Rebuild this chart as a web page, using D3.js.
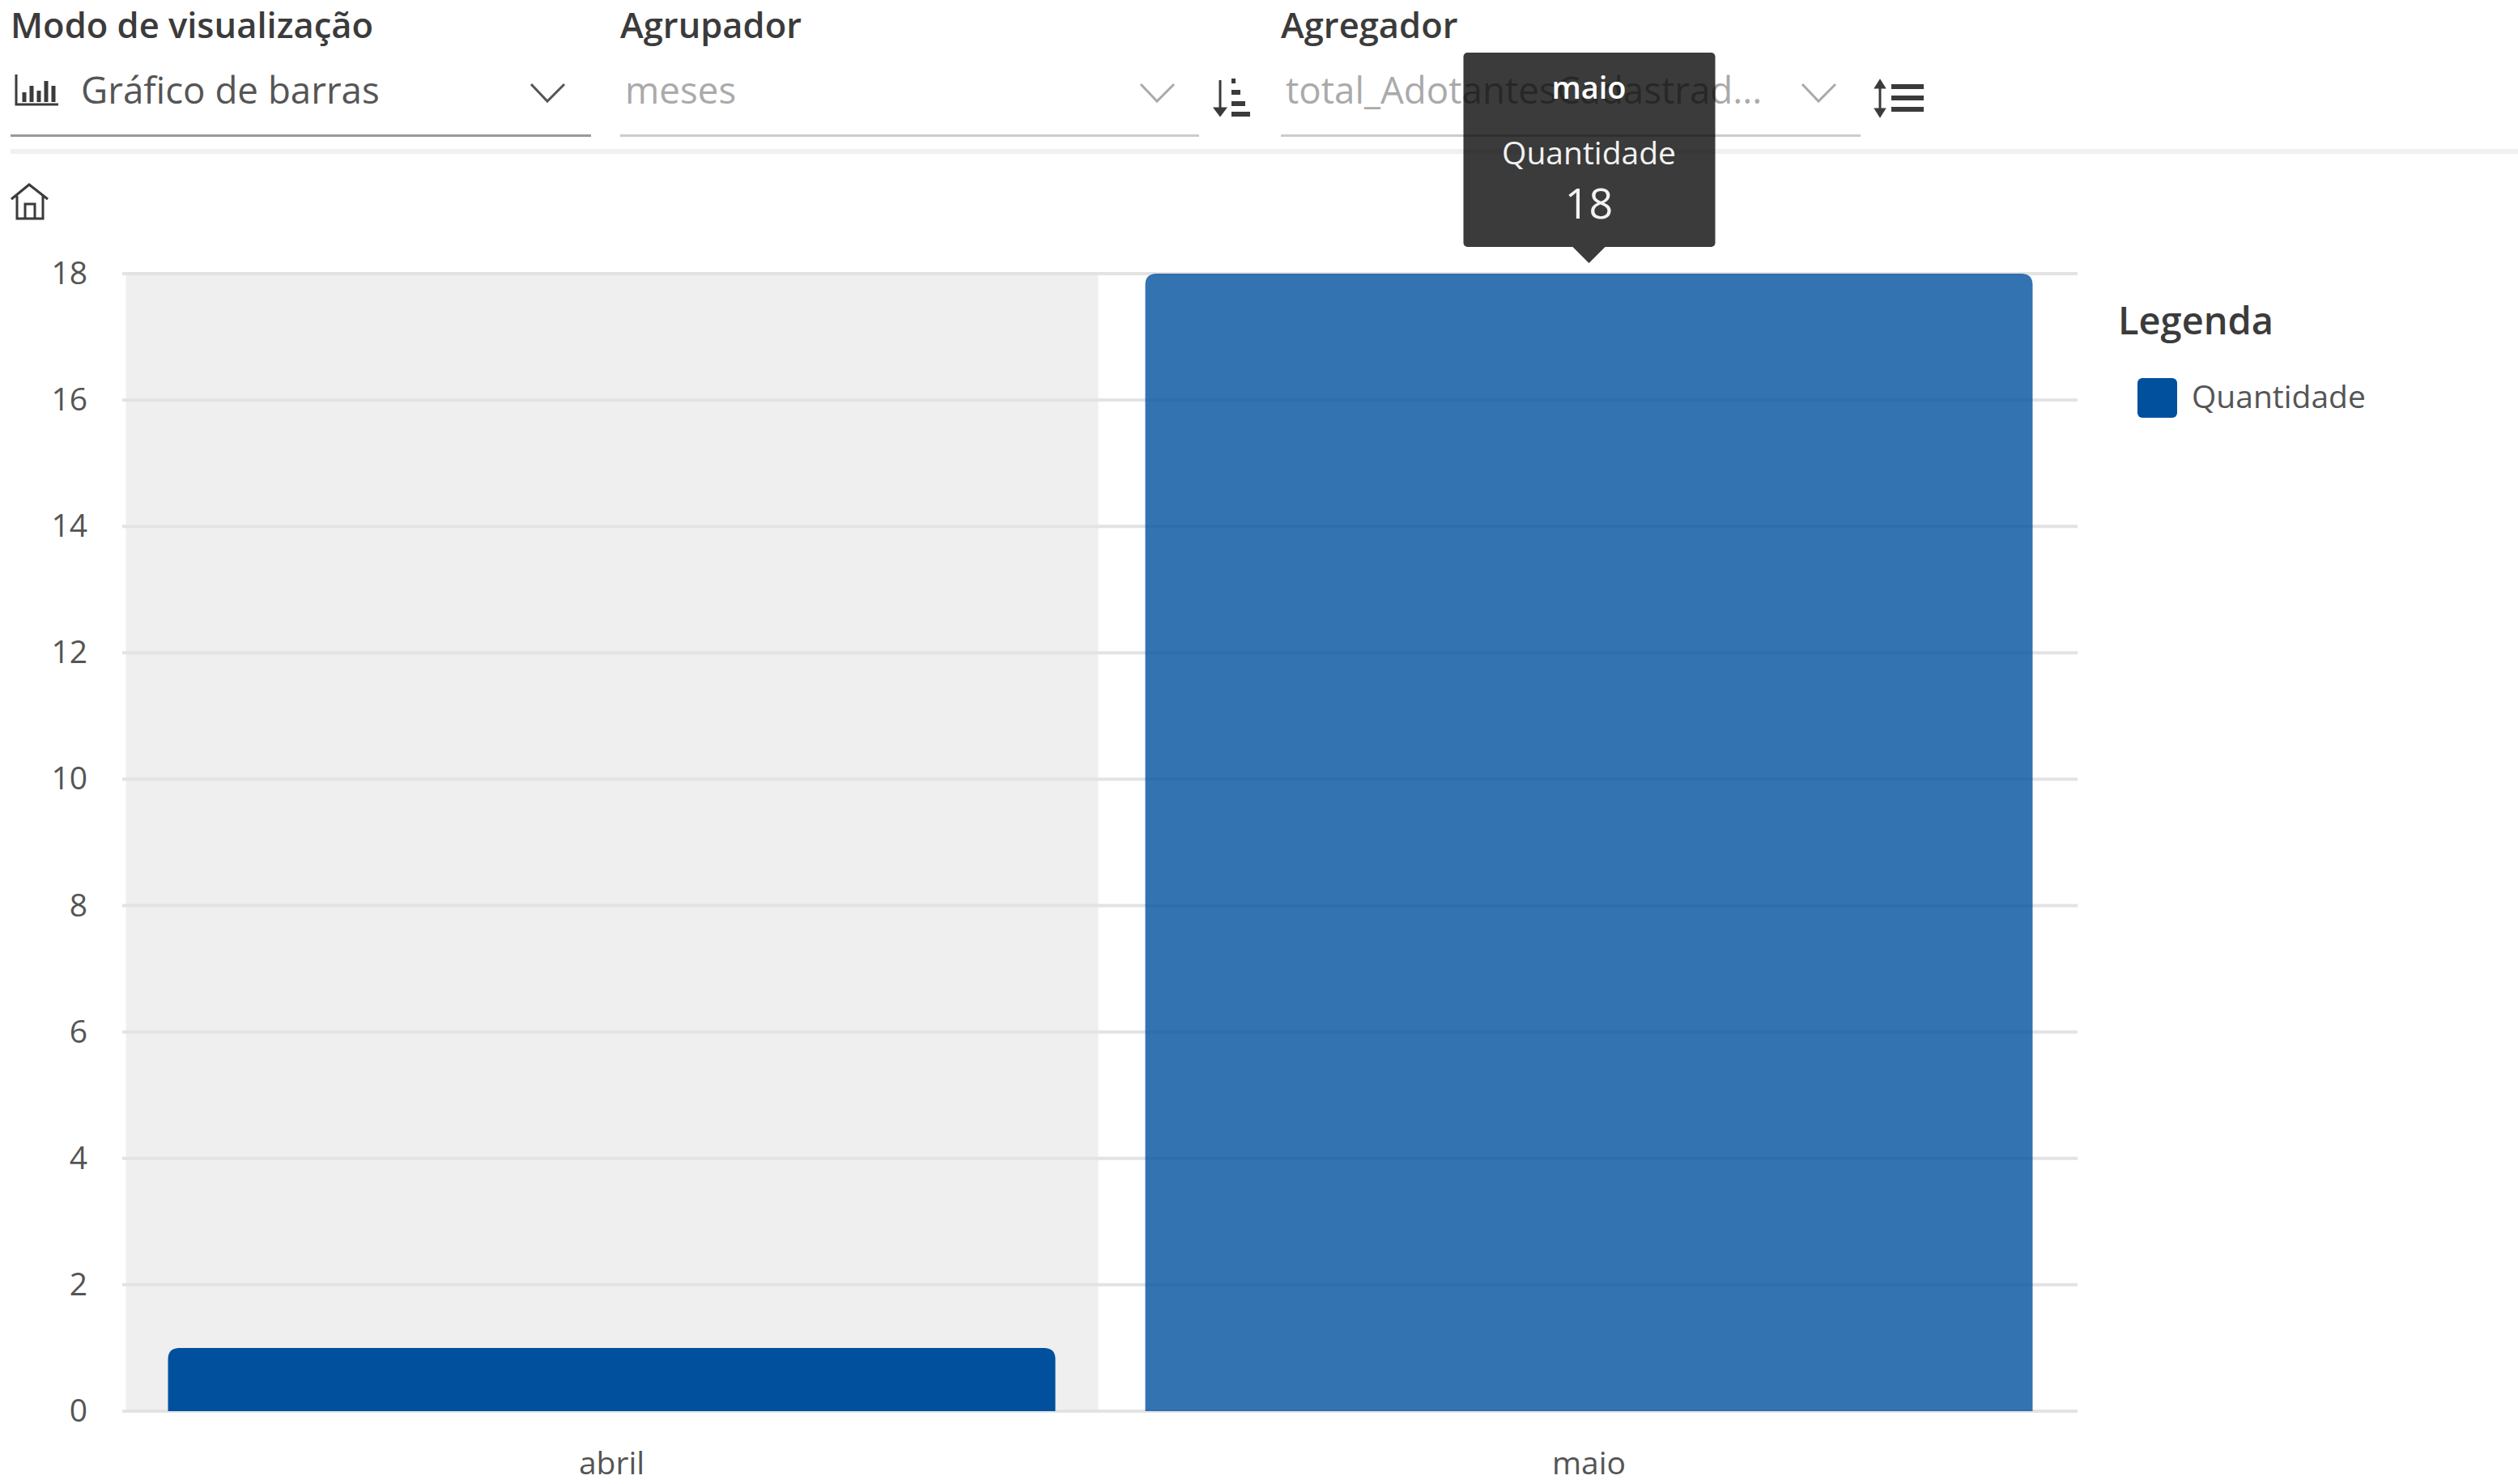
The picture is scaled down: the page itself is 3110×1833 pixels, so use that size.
<!DOCTYPE html>
<html>
<head>
<meta charset="utf-8">
<script src="https://cdn.jsdelivr.net/npm/d3@7"></script>
<style>
  html, body { margin: 0; padding: 0; background: #fff; }
  svg { display: block; }
  text { font-family: "Open Sans", sans-serif; }
  .axis .domain { display: none; }
  .axis text { font-size: 39px; fill: #555; }
</style>
</head>
<body>
<svg id="chart" width="3110" height="1833"></svg>
<script>
// Chart values
var categories = ['abril', 'maio'];
var quantidade = [1, 18];
var yTicks = [0, 2, 4, 6, 8, 10, 12, 14, 16, 18];
var seriesName = 'Quantidade';
var hoveredCategory = 'maio';
var selectedBand = 'abril';

// Toolbar texts
var controlLabels = ['Modo de visualização', 'Agrupador', 'Agregador'];
var controlValues = ['Gráfico de barras', 'meses', 'total_AdotantesCadastrad...'];

var barColor = '#00509e';

var svg = d3.select('#chart');

// Toolbar
var controlX = [13, 766, 1582];
var controlEnd = [730, 1481, 2298];
var valueX = [100, 772, 1588];
var chevronX = [655, 1408, 2225];
var underline = ['#999999', '#cccccc', '#cccccc'];
var valueColor = ['#555555', '#aaaaaa', '#aaaaaa'];

svg.append('rect')
    .attr('x', 13).attr('y', 184)
    .attr('width', 3097).attr('height', 6)
    .attr('fill', '#f0f0f0');

controlLabels.forEach(function (label, i) {
    svg.append('text')
        .attr('x', controlX[i]).attr('y', 47)
        .attr('font-size', 43.5).attr('font-weight', 600)
        .attr('fill', '#3b3b3b')
        .text(label);

    svg.append('text')
        .attr('x', valueX[i]).attr('y', 128)
        .attr('font-size', 45.7)
        .attr('fill', valueColor[i])
        .text(controlValues[i]);

    svg.append('rect')
        .attr('x', controlX[i]).attr('y', 166)
        .attr('width', controlEnd[i] - controlX[i]).attr('height', 3)
        .attr('fill', underline[i]);

    svg.append('path')
        .attr('transform', 'translate(' + chevronX[i] + ',103)')
        .attr('d', 'M1,1L21,22L42,1')
        .attr('fill', 'none')
        .attr('stroke', i === 0 ? '#555' : '#aaa')
        .attr('stroke-width', 3);
});

// Bar chart icon
svg.append('path')
    .attr('transform', 'translate(18,92)')
    .attr('d', 'M2,0V37H54')
    .attr('fill', 'none')
    .attr('stroke', '#3b3b3b')
    .attr('stroke-width', 3);
svg.append('path')
    .attr('transform', 'translate(18,92)')
    .attr('d', 'M12,22V34M21,14V34M30,20V34M39,8V34M48,14V34')
    .attr('fill', 'none')
    .attr('stroke', '#3b3b3b')
    .attr('stroke-width', 5);

// Sort icon
svg.append('path')
    .attr('transform', 'translate(1500,97)')
    .attr('d', 'M7,2V38M1,37L7,45L13,37Z')
    .attr('fill', '#3b3b3b')
    .attr('stroke', '#3b3b3b')
    .attr('stroke-width', 3);
svg.append('path')
    .attr('transform', 'translate(1500,97)')
    .attr('d', 'M21,3H26M21,17H32M21,31H38M21,44H44')
    .attr('fill', 'none')
    .attr('stroke', '#3b3b3b')
    .attr('stroke-width', 6);

// Line height icon
svg.append('path')
    .attr('transform', 'translate(2316,100)')
    .attr('d', 'M6,4V38M1,8L6,0L11,8ZM1,35L6,43L11,35Z')
    .attr('fill', '#3b3b3b')
    .attr('stroke', '#3b3b3b')
    .attr('stroke-width', 3);
svg.append('path')
    .attr('transform', 'translate(2316,100)')
    .attr('d', 'M20,7H60M20,21H60M20,35H60')
    .attr('fill', 'none')
    .attr('stroke', '#3b3b3b')
    .attr('stroke-width', 6);

// Home icon
svg.append('path')
    .attr('transform', 'translate(13,227)')
    .attr('d', 'M1,19L23,1L46,19M8,15V43H40V15M18,43V25H30V43')
    .attr('fill', 'none')
    .attr('stroke', '#3b3b3b')
    .attr('stroke-width', 3);

// Scales
var margin = { top: 338, right: 544, bottom: 90, left: 152 };
var width = 3110 - margin.left - margin.right;
var height = 1833 - margin.top - margin.bottom;

var x = d3.scaleBand()
    .domain(categories)
    .range([0, width])
    .paddingInner(0.092)
    .paddingOuter(0.046);

var y = d3.scaleLinear()
    .domain([0, 18])
    .range([height, 0]);

var g = svg.append('g')
    .attr('transform', 'translate(' + margin.left + ',' + margin.top + ')');

// Shaded band behind the last selected category
g.append('rect')
    .attr('x', x(selectedBand) + x.bandwidth() / 2 - 600)
    .attr('y', 0)
    .attr('width', 1201)
    .attr('height', height)
    .attr('fill', '#efefef');

// Gridlines
g.selectAll('.grid')
    .data(yTicks)
    .enter()
    .append('rect')
    .attr('class', 'grid')
    .attr('x', -1)
    .attr('y', function (d) { return y(d) - 2; })
    .attr('width', width + 1)
    .attr('height', 4)
    .attr('fill', '#e3e3e3');

// Y axis
g.append('g')
    .attr('class', 'axis')
    .call(d3.axisLeft(y).tickValues(yTicks).tickSize(0).tickPadding(44));

// X axis
g.append('g')
    .attr('class', 'axis')
    .attr('transform', 'translate(0,' + height + ')')
    .call(d3.axisBottom(x).tickSize(0).tickPadding(50));

// Bars, rounded on the top corners only
function barPath(d, i) {
    var left = x(categories[i]);
    var right = left + x.bandwidth();
    var top = y(d);
    var r = 14;
    return 'M' + left + ',' + y(0) +
        'V' + (top + r) +
        'Q' + left + ',' + top + ' ' + (left + r) + ',' + top +
        'H' + (right - r) +
        'Q' + right + ',' + top + ' ' + right + ',' + (top + r) +
        'V' + y(0) + 'Z';
}

g.selectAll('.bar')
    .data(quantidade)
    .enter()
    .append('path')
    .attr('class', 'bar')
    .attr('d', barPath)
    .attr('fill', barColor)
    .attr('fill-opacity', function (d, i) { return categories[i] === hoveredCategory ? 0.8 : 1; });

// Legend
svg.append('text')
    .attr('x', 2616).attr('y', 413)
    .attr('font-size', 47).attr('font-weight', 600)
    .attr('fill', '#3b3b3b')
    .text('Legenda');

svg.append('rect')
    .attr('x', 2640).attr('y', 467)
    .attr('width', 49).attr('height', 49)
    .attr('rx', 6)
    .attr('fill', barColor);

svg.append('text')
    .attr('x', 2707).attr('y', 504)
    .attr('font-size', 39)
    .attr('fill', '#555')
    .text(seriesName);

// Tooltip on the hovered bar, see-through so the toolbar shows dimly under it
var hoverIndex = categories.indexOf(hoveredCategory);
var tipX = margin.left + x(hoveredCategory) + x.bandwidth() / 2;
var tip = svg.append('g').attr('transform', 'translate(' + tipX + ',0)');

tip.append('rect')
    .attr('x', -155).attr('y', 65)
    .attr('width', 311).attr('height', 240)
    .attr('rx', 5)
    .attr('fill', '#000')
    .attr('fill-opacity', 0.77);

tip.append('path')
    .attr('d', 'M-20,305L0,325L20,305Z')
    .attr('fill', '#000')
    .attr('fill-opacity', 0.77);

tip.append('text')
    .attr('y', 122).attr('text-anchor', 'middle')
    .attr('font-size', 38).attr('font-weight', 600)
    .attr('fill', '#fff')
    .text(hoveredCategory);

tip.append('text')
    .attr('y', 203).attr('text-anchor', 'middle')
    .attr('font-size', 39)
    .attr('fill', '#f2f2f2')
    .text(seriesName);

tip.append('text')
    .attr('y', 270).attr('text-anchor', 'middle')
    .attr('font-size', 52)
    .attr('fill', '#f2f2f2')
    .text(quantidade[hoverIndex]);
</script>
</body>
</html>
